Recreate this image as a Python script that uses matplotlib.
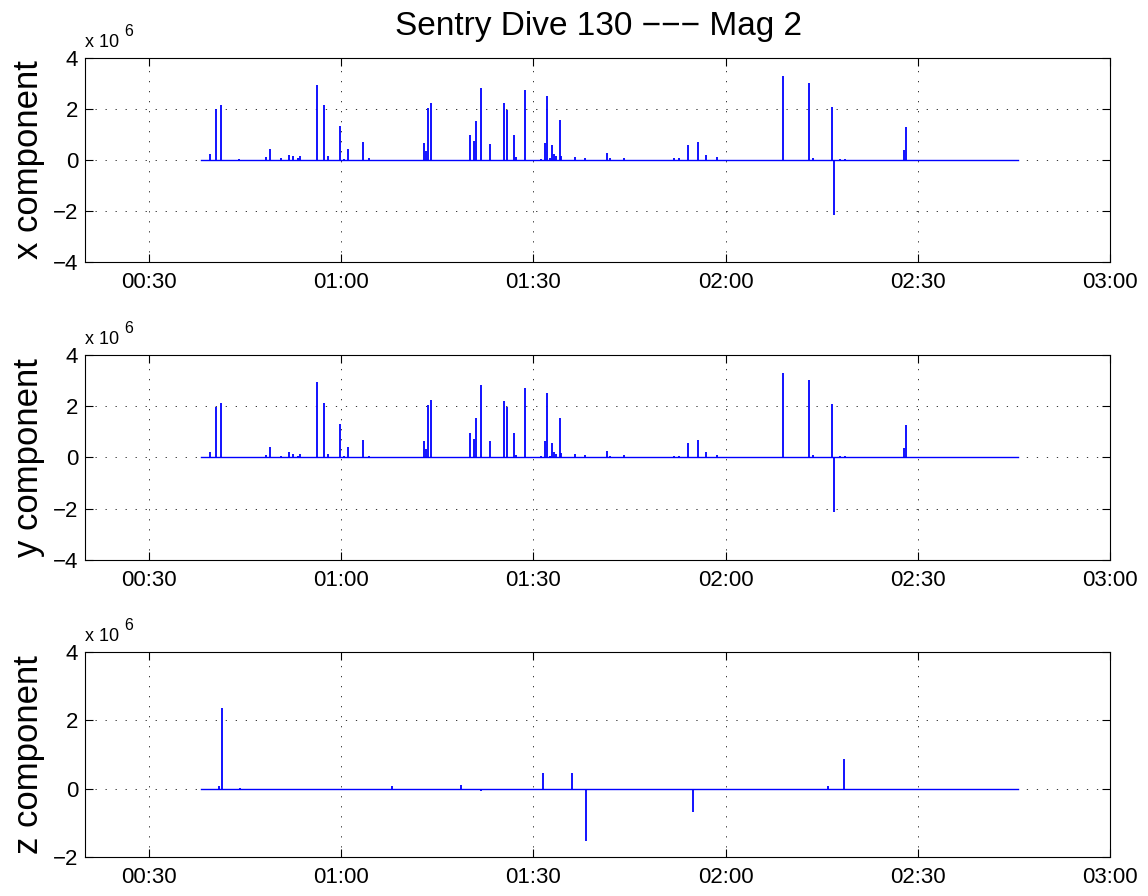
import matplotlib
matplotlib.use('Agg')
import matplotlib.pyplot as plt
from matplotlib.ticker import FuncFormatter, MultipleLocator
from matplotlib.transforms import offset_copy
import numpy as np

plt.rcParams['font.family'] = ['Liberation Sans', 'DejaVu Sans']

# record span (minutes after midnight)
t_start = 38.1
t_end = 165.6

# spike times (minutes) and amplitudes (x 1e6) for x/y components
xy_times = [39.48, 40.47, 41.20, 44.02, 48.28, 48.86, 50.67, 51.83, 52.50, 53.28,
            53.55, 56.25, 57.34, 57.92, 59.80, 60.36, 61.05, 63.33, 64.33, 72.86,
            73.17, 73.55, 74.02, 80.11, 80.67, 81.05, 81.83, 83.23, 85.42, 85.89,
            86.98, 87.30, 88.70, 91.20, 91.86, 92.14, 92.61, 92.92, 93.23, 93.44,
            94.17, 94.33, 96.52, 98.02, 101.52, 101.98, 104.06, 111.98, 112.77, 114.06,
            115.73, 116.88, 118.64, 129.02, 133.08, 133.70, 136.52, 136.88, 137.86, 138.70,
            147.86, 148.08]
x_vals = [0.22, 1.98, 2.14, 0.03, 0.10, 0.42, 0.07, 0.20, 0.14, 0.07,
          0.14, 2.93, 2.14, 0.14, 1.32, 0.04, 0.42, 0.69, 0.07, 0.65,
          0.34, 2.03, 2.23, 0.97, 0.73, 1.54, 2.82, 0.64, 2.22, 1.97,
          0.97, 0.10, 2.73, 0.04, 0.65, 2.51, 0.07, 0.57, 0.23, 0.14,
          1.55, 0.17, 0.13, 0.09, 0.26, 0.07, 0.08, 0.06, 0.06, 0.57,
          0.69, 0.20, 0.10, 3.28, 3.03, 0.09, 2.09, -2.14, 0.05, 0.05,
          0.38, 1.28]
y_vals = list(x_vals)

z_times = [40.89, 41.36, 44.22, 67.92, 78.70, 81.83, 91.52, 96.09, 98.23, 114.84,
           135.94, 138.39]
z_vals = [0.07, 2.35, 0.03, 0.07, 0.10, -0.07, 0.46, 0.46, -1.54, -0.68,
          0.09, 0.87]

panels = [
    ('x component', xy_times, x_vals, (-4, 4)),
    ('y component', xy_times, y_vals, (-4, 4)),
    ('z component', z_times, z_vals, (-2, 4)),
]

fig = plt.figure(figsize=(11.48, 8.96), dpi=100)
positions = [
    [0.074, 0.7076, 0.893, 0.2277],
    [0.074, 0.375, 0.893, 0.2288],
    [0.074, 0.0435, 0.893, 0.2288],
]


def hhmm(v, pos):
    v = int(round(v))
    return '%02d:%02d' % (v // 60, v % 60)


def ytick(v, pos):
    return ('%d' % v).replace('-', '\u2212')


for pos, (label, times, vals, ylim) in zip(positions, panels):
    ax = fig.add_axes(pos)
    ax.plot([t_start, t_end], [0, 0], color='b', lw=1.0)
    ax.vlines(times, 0, vals, color='b', lw=1.3)
    ax.set_xlim(20, 180)
    ax.set_ylim(*ylim)
    ax.xaxis.set_major_locator(MultipleLocator(30))
    ax.xaxis.set_major_formatter(FuncFormatter(hhmm))
    ax.yaxis.set_major_locator(MultipleLocator(2))
    ax.yaxis.set_major_formatter(FuncFormatter(ytick))
    ax.grid(True, color='#333333', linestyle=(0, (1.3, 9)), lw=0.7)
    ax.tick_params(direction='in', top=True, right=True, labelsize=16,
                   length=6, width=0.8)
    ax.tick_params(axis='x', pad=7)
    ax.tick_params(axis='y', pad=5)
    for s in ax.spines.values():
        s.set_linewidth(0.8)
    ax.set_ylabel(label, fontsize=25)
    ax.yaxis.set_label_coords(-0.039, 0.5)
    # MATLAB-style exponent label
    tr = offset_copy(ax.transAxes, fig=fig, x=0, y=8, units='points')
    ax.text(0.0, 1.0, 'x 10', transform=tr, fontsize=13,
            ha='left', va='baseline')
    tr6 = offset_copy(ax.transAxes, fig=fig, x=28.5, y=16, units='points')
    ax.text(0.0, 1.0, '6', transform=tr6, fontsize=11.5,
            ha='left', va='baseline')

fig.text(0.521, 0.961, 'Sentry Dive 130 \u2212\u2212\u2212 Mag 2',
         ha='center', va='baseline', fontsize=24)

plt.savefig('out.png', dpi=100)
